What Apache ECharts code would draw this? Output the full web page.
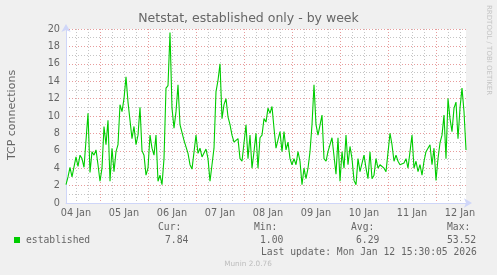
<!DOCTYPE html>
<html><head><meta charset="utf-8">
<script src="https://cdn.jsdelivr.net/npm/echarts@6/dist/echarts.min.js"></script>
<style>html,body{margin:0;padding:0;background:#F0F0F0}#c{width:497px;height:275px}</style>
</head><body><div id="c"></div><script>
// first sample: hours after 04 Jan 00:00
const START_HOUR = 7;
// hourly samples of established TCP connections
const values = [
  2.1, 3.0, 4.1, 3.0, 3.2, 5.3, 4.2, 5.5, 5.1, 4.1, 4.3, 10.3, 3.5, 5.9, 5.5, 6.1, 4.4,
  2.5, 4.0, 8.8, 6.7, 9.5, 2.5, 6.3, 3.6, 5.9, 6.7, 11.3, 10.5, 12.0, 14.5, 11.6, 11.8, 7.4, 8.8, 6.7, 7.8, 11.0, 6.0, 5.5, 3.2,
  4.0, 7.8, 6.3, 5.5, 7.8, 2.5, 3.2, 2.1, 5.1, 13.2, 13.5, 19.6, 10.9, 8.6, 10.5, 13.6, 9.0, 9.0, 7.2, 7.0, 5.7, 4.4, 3.9, 3.9,
  7.8, 5.7, 6.3, 5.3, 5.5, 6.2, 5.1, 2.5, 4.4, 6.3, 12.8, 14.1, 16.0, 9.7, 11.3, 12.0, 9.9, 9.0, 7.8, 7.0, 7.0, 7.4, 5.1, 4.8,
  4.6, 9.0, 5.1, 7.8, 4.0, 5.9, 8.0, 4.0, 7.5, 7.8, 9.7, 9.3, 10.9, 10.3, 11.1, 8.6, 6.3, 6.3, 8.2, 5.9, 8.2, 6.1, 7.0, 5.1,
  4.4, 5.1, 4.4, 5.9, 4.8, 2.1, 4.0, 2.8, 4.0, 5.9, 9.0, 13.6, 9.0, 7.8, 7.8, 10.1, 5.1, 4.8, 5.9, 6.7, 7.5, 7.6, 3.3, 7.5,
  2.5, 5.9, 4.0, 7.8, 4.4, 6.5, 5.1, 2.6, 2.1, 5.1, 3.6, 3.7, 5.5, 4.0, 2.8, 5.9, 2.8, 3.2, 5.1, 4.0, 4.4, 4.4, 4.0, 3.6,
  3.6, 8.0, 6.7, 4.8, 5.5, 4.8, 4.4, 4.4, 4.6, 5.1, 4.0, 5.9, 7.8, 4.0, 4.8, 3.6, 4.4, 3.2, 4.8, 5.9, 6.1, 6.7, 4.4, 6.3,
  2.6, 5.1, 6.9, 7.8, 10.1, 5.1, 12.0, 9.7, 8.2, 10.9, 11.6, 7.4, 10.9, 13.2, 10.5, 6.1
];
const dayLabels = ['04 Jan','05 Jan','06 Jan','07 Jan','08 Jan','09 Jan','10 Jan','11 Jan','12 Jan'];
const yMax = 20;
const titleText = 'Netstat, established only - by week';
const yName = 'TCP connections';
const seriesName = 'established';
const statHeads = ['Cur:', 'Min:', 'Avg:', 'Max:'];
const statValues = ['7.84', '1.00', '6.29', '53.52'];
const lastUpdate = 'Last update: Mon Jan 12 15:30:05 2026';
const footer = 'Munin 2.0.76';
const sideText = 'RRDTOOL / TOBI OETIKER';

const hours = values.map((v, i) => String(START_HOUR + i));

const FONT = 'DejaVu Sans';
const MONO = 'DejaVu Sans Mono';
const TXT = '#666666';
const GRAY = 'rgba(150,150,150,0.55)';
const RED = 'rgba(215,90,90,0.6)';
const AXIS = '#CFD6F8';

const headX = [158, 254, 351, 447];
const valX = [165, 260, 356, 447];

const graphics = [
  {type:'text', left:'center', top:12, style:{text:titleText, font:'12.5px "DejaVu Sans"', fill:TXT}},
  {type:'text', x:12, y:115, rotation:Math.PI/2, style:{text:yName, font:'11px "DejaVu Sans"', fill:TXT, textAlign:'center', textVerticalAlign:'middle'}},
  {type:'text', x:489, y:5, rotation:-Math.PI/2, style:{text:sideText, font:'7px "DejaVu Sans"', fill:'#c4c4c4', textAlign:'left', textVerticalAlign:'middle'}},
  {type:'rect', shape:{x:14, y:237, width:6, height:6}, style:{fill:'#00CC00'}},
  {type:'text', x:26, y:240, style:{text:seriesName, font:'9.7px "DejaVu Sans Mono"', fill:TXT, textVerticalAlign:'middle'}},
  {type:'text', x:261, y:252, style:{text:lastUpdate, font:'9.7px "DejaVu Sans Mono"', fill:TXT, textVerticalAlign:'middle'}},
  {type:'text', x:248, y:264, style:{text:footer, font:'7.3px "DejaVu Sans"', fill:'#bdbdbd', textAlign:'center', textVerticalAlign:'middle'}}
];
statHeads.forEach((t, i) => graphics.push({type:'text', x:headX[i], y:227, style:{text:t, font:'9.7px "DejaVu Sans Mono"', fill:TXT, textVerticalAlign:'middle'}}));
statValues.forEach((t, i) => graphics.push({type:'text', x:valX[i], y:240, style:{text:t, font:'9.7px "DejaVu Sans Mono"', fill:TXT, textVerticalAlign:'middle'}}));

const chart = echarts.init(document.getElementById('c'), null, {renderer:'canvas'});
chart.setOption({
  animation:false,
  backgroundColor:'#F0F0F0',
  grid:{left:66, top:29, width:400, height:174, show:true, backgroundColor:'#FFFFFF', borderWidth:0},
  xAxis:[{
    type:'category', data:hours, boundaryGap:false,
    axisLine:{show:true, lineStyle:{color:AXIS, width:1}, symbol:['none','arrow'], symbolSize:[7,8], symbolOffset:[0,6]},
    axisTick:{show:false},
    axisLabel:{interval:(i, v) => Number(v) % 24 === 12, formatter:(v) => dayLabels[Math.floor(Number(v)/24)],
      color:TXT, fontFamily:FONT, fontSize:9.7, margin:5},
    splitLine:{show:true, interval:(i, v) => Number(v) % 6 === 0 && Number(v) % 24 !== 0,
      lineStyle:{color:GRAY, width:1, type:[1,2]}}
  },{
    type:'category', data:hours, boundaryGap:false, position:'bottom',
    axisLine:{show:false}, axisTick:{show:false}, axisLabel:{show:false},
    splitLine:{show:true, interval:(i, v) => Number(v) % 24 === 0,
      lineStyle:{color:RED, width:1, type:[1,2]}}
  }],
  yAxis:{
    type:'value', min:0, max:yMax, interval:1,
    axisLine:{show:true, lineStyle:{color:AXIS, width:1}, symbol:['none','arrow'], symbolSize:[7,8], symbolOffset:[0,5]},
    axisTick:{show:false},
    axisLabel:{formatter:(v) => (v % 2 === 0 ? String(v) : ''), color:TXT, fontFamily:FONT, fontSize:9.7, margin:6},
    splitLine:{show:true, lineStyle:{color:[RED, GRAY], width:1, type:[1,2]}}
  },
  series:[{
    name:seriesName, type:'line', data:values, xAxisIndex:0,
    symbol:'none', lineStyle:{color:'#00CC00', width:1.1}, itemStyle:{color:'#00CC00'}
  }],
  graphic:graphics
});
</script></body></html>
